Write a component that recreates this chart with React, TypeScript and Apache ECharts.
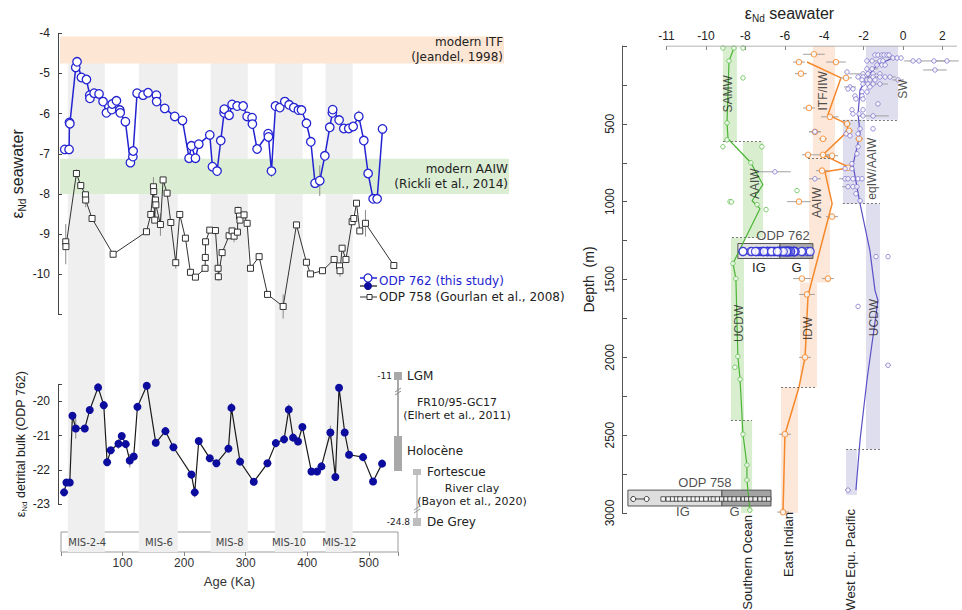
import React, { useEffect, useRef } from "react";
import * as echarts from "echarts";

// ---------------- data ----------------
// glacial stages (Ka)
const misBandsKa = [[12.6, 72.5], [127.6, 190.8], [244, 304], [348, 393], [430, 474]];
const misNames = ["MIS-2-4", "MIS-6", "MIS-8", "MIS-10", "MIS-12"];
const ageTickValues = [100, 200, 300, 400, 500];

// modern references (eps Nd)
const itfRange = [-4.08, -4.75];
const aaiwRange = [-7.12, -8.0];

// ODP 762 seawater [age Ka, eps]
const odp762Sw = [
  [7.7, -6.89], [14.7, -6.89], [15.3, -6.22], [16, -6.25], [25.5, -4.85], [27.6, -4.71], [34.7, -5.10], [42.8, -5.15],
  [48.2, -5.54], [48.5, -5.62], [55.2, -5.49], [63.2, -5.51], [69.7, -5.70], [75.2, -5.98], [83.8, -5.90], [84.5, -5.76],
  [91.4, -5.68], [96.8, -5.91], [97.5, -5.98], [105.9, -6.20], [114, -7.22], [118, -7.07], [118.5, -6.93], [124.8, -5.49],
  [134.5, -5.54], [142.6, -5.48], [156.1, -5.54], [156.5, -5.70], [169.6, -5.87], [185.8, -6.07], [198.3, -6.17], [209, -7.11],
  [212.8, -6.80], [219.3, -7.11], [224.7, -6.76], [242.5, -6.53], [246.8, -7.32], [254.3, -7.43], [260.3, -6.67], [265.7, -5.98],
  [266, -5.89], [273.8, -6.04], [278.6, -5.77], [286.8, -5.81], [296.5, -5.81], [303, -6.07], [311, -6.10], [311.5, -6.26],
  [319.1, -6.88], [337, -6.50], [337.5, -6.58], [342.4, -7.43], [348.9, -5.81], [355.9, -5.85], [364, -5.70], [371, -5.78],
  [378.5, -5.85], [386, -5.91], [391, -5.91], [399, -6.24], [406.1, -6.70], [413, -7.73], [420.6, -7.67], [428.8, -7.05],
  [436.8, -6.34], [441, -5.98], [441.5, -5.90], [451.9, -6.16], [459.5, -6.37], [467.6, -6.37], [474.7, -6.32], [483.8, -6.07],
  [491.9, -6.67], [498.9, -7.49], [507, -8.12], [513.5, -8.12], [522.2, -6.38]
];
const odp762SwErr = [[27.6, -4.71, 0.12], [156.5, -5.70, 0.1], [342.4, -7.43, 0.15], [420.6, -7.67, 0.38], [483.8, -6.07, 0.15], [15.3, -6.22, 0.1]];

// ODP 758 seawater (Gourlan et al., 2008) [age Ka, eps]
const odp758Sw = [
  [9.3, -9.19], [9.6, -9.31], [26.6, -7.49], [33.6, -7.79], [41.2, -8.02], [41.6, -8.15], [51.9, -8.61], [86, -9.50],
  [140, -8.94], [147, -8.51], [151.3, -7.82], [151.8, -7.94], [153.4, -8.65], [154.6, -8.15], [155.2, -8.27], [162.6, -8.76],
  [166.9, -7.65], [173.4, -7.98], [179.4, -8.71], [187.4, -9.71], [193.9, -8.51], [203.1, -9.10], [211.2, -9.95], [219.3, -10.07],
  [234.9, -9.85], [235.3, -9.58], [235.7, -9.19], [242.5, -8.90], [251.7, -8.91], [256, -9.85], [256.4, -10.06], [262.5, -9.46],
  [273.8, -9.04], [278.6, -8.92], [281.9, -9.05], [287.3, -8.95], [288.3, -8.41], [290.6, -8.55], [291.4, -8.65], [298, -8.52],
  [303, -8.73], [308.4, -9.85], [322.4, -9.56], [336, -10.50], [361.3, -10.80], [382.9, -8.77], [399, -9.70], [405.5, -9.99],
  [425, -9.91], [443.8, -9.63], [452.6, -9.79], [453.4, -9.91], [456.8, -9.35], [463, -9.63], [473, -8.69], [475.7, -8.61],
  [480.1, -8.23], [485.4, -8.92], [494.6, -8.73], [540.5, -9.78]
];
const odp758SwErr = [
  [9.3, -9.25, 0.5], [26.6, -7.49, 0.1], [41.6, -8.15, 0.18], [151.3, -7.9, 0.32], [162.6, -8.76, 0.28], [187.4, -9.71, 0.15],
  [256.4, -10.06, 0.1], [281.9, -9.05, 0.15], [288.3, -8.41, 0.1], [361.3, -10.8, 0.3], [453.4, -9.91, 0.15], [494.6, -8.73, 0.33]
];

// ODP 762 detrital bulk [age Ka, eps]
const odp762Det = [
  [6.6, -22.66], [10.4, -22.37], [15.8, -22.37], [20.1, -20.42], [25.5, -20.79], [40.1, -20.79], [48.2, -20.25], [61.7, -19.59],
  [70.9, -20.11], [76.3, -21.78], [82.2, -21.43], [94.6, -21.24], [100, -21.01], [106.5, -21.25], [113, -21.73], [119.4, -21.61],
  [125.4, -20.16], [140.5, -19.54], [155.1, -21.21], [170.8, -20.87], [183.7, -21.34], [212.8, -22.14], [218.2, -22.66], [224.7, -21.16],
  [242.5, -21.66], [253.3, -21.81], [272.8, -21.38], [277.6, -20.19], [291.6, -21.76], [313.8, -22.35], [336, -21.81], [349.5, -21.22],
  [362.9, -21.11], [370.5, -20.24], [377.5, -21.06], [385.5, -21.17], [392.6, -20.75], [407.2, -22.05], [416.3, -22.05], [423.4, -21.90],
  [437.9, -20.91], [446, -22.21], [451.9, -19.60], [461.1, -20.91], [468.1, -21.56], [490.8, -21.63], [507, -22.34], [521.6, -21.82]
];
const odp762DetErr = [
  [25.5, -20.79, 0.3], [94.6, -21.24, 0.15], [113, -21.73, 0.2], [155.1, -21.21, 0.12], [218.2, -22.66, 0.15], [277.6, -20.19, 0.15],
  [313.8, -22.35, 0.1], [349.5, -21.22, 0.12], [370.5, -20.24, 0.15], [377.5, -21.06, 0.1], [437.9, -20.91, 0.2], [490.8, -21.63, 0.1]
];

// depth profiles [eps, depth m]
const soProfile = [
  [-8.58, 13], [-8.83, 96], [-8.93, 494], [-8.88, 596], [-7.72, 750], [-7.11, 891], [-7.66, 994], [-7.26, 1045],
  [-8.63, 1397], [-8.48, 1494], [-8.38, 1994], [-8.27, 2141], [-8.12, 2494], [-7.92, 2692], [-7.92, 2788], [-7.77, 2981]
];
const soPoints = [
  [-9.14, 13], [-8.58, 13], [-8.12, 13], [-8.83, 96], [-8.12, 205], [-8.93, 494], [-8.93, 603], [-9.14, 647], [-7.16, 647],
  [-7.72, 750], [-7.41, 1019], [-6.95, 1051], [-8.78, 1000], [-8.70, 1002], [-8.63, 1397], [-8.48, 1494], [-8.38, 1994], [-8.53, 2064],
  [-8.27, 2141], [-8.12, 2494], [-7.92, 2692], [-7.92, 2788], [-7.77, 2981], [-5.38, 929]
];
const eiProfile = [
  [-4.87, 103], [-3.15, 205], [-3.81, 442], [-2.84, 500], [-2.79, 545], [-4.06, 699], [-2.69, 782], [-3.96, 808],
  [-3.60, 1013], [-4.82, 1603], [-4.97, 2000], [-5.28, 2192], [-5.99, 2494], [-6.09, 2994]
];
const eiPoints = [
  [-4.52, 53, 0.55], [-5.28, 103, 0.3], [-3.40, 103, 0.5], [-5.18, 178, 0.3], [-2.89, 205, 0.3], [-4.77, 398, 0.3],
  [-3.71, 455, 0.45], [-2.84, 500, 0.2], [-2.74, 545, 0.2], [-4.47, 551, 0.3], [-4.06, 596, 0.2], [-2.23, 596, 0.2],
  [-4.82, 699, 0.3], [-4.06, 699, 0.45], [-3.60, 705, 0.3], [-2.79, 782, 0.2], [-4.11, 801, 0.3], [-5.28, 1000, 0.6],
  [-3.60, 1096, 0.3], [-5.13, 1494, 0.45], [-3.81, 1494, 0.3], [-4.87, 1596, 0.4], [-4.97, 2000, 0.3], [-5.99, 2494, 0.3],
  [-6.09, 2994, 0.3]
];
const wpProfile = [
  [-0.51, 77], [-1.32, 122], [-1.68, 179], [-2.18, 282], [-2.28, 436], [-2.18, 564], [-2.54, 763], [-2.18, 1013],
  [-1.68, 1314], [-1.42, 1571], [-1.27, 1635], [-1.83, 2147], [-2.18, 2532], [-2.39, 2853]
];
const wpPoints = [
  [-1.42, 58, 0], [-1.27, 58, 0], [-1.07, 58, 0], [-0.96, 58, 0], [-0.81, 58, 0], [-0.71, 58, 0],
  [-0.51, 77, 0.25], [-0.30, 77, 0], [-0.10, 77, 0], [0.51, 96, 0.45], [0.81, 96, 0], [1.57, 96, 0.6], [2.23, 96, 0.6],
  [-1.83, 96, 0], [-1.57, 96, 0.3], [-1.17, 96, 0], [-1.02, 96, 0], [-1.32, 122, 0], [-1.07, 122, 0], [-0.91, 122, 0],
  [1.62, 154, 0.6], [-1.83, 147, 0], [-1.57, 147, 0.3], [-2.84, 167, 0], [-2.03, 179, 0.7], [-1.78, 179, 0], [-1.52, 179, 0],
  [-1.17, 179, 0], [-2.28, 199, 0], [-2.03, 199, 0], [-1.52, 199, 0.4], [-1.17, 199, 0], [-0.91, 199, 0], [-0.66, 199, 0.3],
  [-2.08, 218, 0], [-1.83, 218, 0], [-1.68, 218, 0.3], [-1.42, 218, 0], [-0.25, 218, 0.3], [-2.03, 244, 0], [-1.78, 244, 0.3],
  [-1.52, 244, 0], [-1.17, 244, 0.4], [-2.69, 263, 0.3], [-1.68, 263, 0], [-2.79, 276, 0], [-2.54, 276, 0], [-2.08, 295, 0],
  [-1.83, 295, 0], [-2.44, 321, 0], [-2.08, 321, 0], [-2.39, 340, 0], [-2.03, 340, 0], [-1.27, 372, 0], [-2.59, 410, 0],
  [-2.03, 410, 0], [-2.54, 436, 0], [-2.23, 436, 0], [-2.03, 449, 0], [-1.52, 449, 0.8], [-2.18, 532, 0], [-1.52, 532, 0],
  [-2.89, 564, 0], [-2.28, 564, 0], [-2.69, 577, 0], [-4.47, 551, 0.3], [-2.28, 647, 0], [-2.34, 692, 0], [-2.59, 756, 0],
  [-2.94, 788, 0], [-2.59, 788, 0], [-6.50, 808, 0.8], [-4.47, 853, 0.3], [-2.94, 853, 0.3], [-2.79, 853, 0], [-2.54, 853, 0],
  [-2.28, 853, 0], [-2.08, 853, 0], [-2.79, 904, 0.3], [-2.54, 904, 0], [-2.34, 904, 0], [-2.39, 949, 0], [-2.18, 994, 0],
  [-1.37, 1353, 0], [-0.76, 1353, 0], [-2.28, 1673, 0], [-0.76, 2051, 0.15], [-2.79, 2853, 0.15]
];

// water-mass bands [eps min, eps max, depth top, depth bottom]
const soBands = [[-9.14, -8.43, 0, 615], [-8.12, -7.10, 615, 1231], [-8.73, -8.07, 1231, 2404], [-8.22, -7.66, 2404, 3000]];
const eiBands = [[-4.57, -3.45, 0, 718], [-4.77, -3.71, 718, 1520], [-5.23, -4.37, 1520, 2192], [-6.19, -5.33, 2192, 3000]];
const wpBands = [[-1.88, -0.25, 0, 474], [-3.05, -1.93, 474, 1013], [-1.88, -1.17, 1013, 2590], [-2.89, -2.34, 2590, 2885]];
// boundaries [eps from, eps to, depth]
const boundaries = [
  [-9.14, -7.10, 615], [-8.68, -7.41, 1231], [-8.73, -7.66, 2404], [-4.82, -3.45, 718], [-6.19, -4.37, 2192],
  [-3.05, -0.25, 474], [-3.05, -1.17, 1013], [-2.89, -1.17, 2590]
];
const massLabels = [
  { name: "SAMW", value: [-8.88, 308] }, { name: "AAIW", value: [-7.51, 885] }, { name: "UCDW", value: [-8.32, 1782] },
  { name: "ITF/IIW", value: [-4.06, 288] }, { name: "AAIW", value: [-4.37, 1006] }, { name: "IDW", value: [-4.82, 1814] },
  { name: "SW", value: [0.0, 276] }, { name: "eqIW/AAIW", value: [-1.57, 788] }, { name: "UCDW", value: [-1.47, 1744] }
];

// core-top sites
const odp762Depth = 1320;
const odp762Box = { ig: [-8.38, -6.24], g: [-6.24, -4.57], depth: [1269, 1365] };
const odp758Depth = 2910;
const odp758Box = { ig: [-13.96, -9.19], g: [-9.19, -6.70], depth: [2853, 2955] };
const odp758Profile = [
  -13.69, -13.01, -12.17, -11.91, -11.69, -11.49, -11.32, -11.07, -10.85, -10.64, -10.44, -10.22, -10.0, -9.76, -9.62,
  -9.42, -9.2, -8.98, -8.78, -8.57, -8.35, -8.1, -7.93, -7.72, -7.5, -7.25, -7.04, -6.82
];
const topTicks = [-12, -10, -8, -6, -4, -2, 0, 2];
const regionNames = ["Southern Ocean", "East Indian", "West Equ. Pacific"];

// ---------------- styles ----------------
const FA = "Liberation Sans, Arial, sans-serif";
const FT = "DejaVu Sans, Verdana, sans-serif";
const BLUE = "#2323d2";
const NAVY = "#0c0c9e";
const GREEN = "#4cb436";
const ORANGE = "#f5882a";
const PURPLE = "#5b50c6";

const epsRich = (size: number) => ({
  e: { fontSize: size, fontFamily: FA, color: "#222", lineHeight: size + 4 },
  s: { fontSize: Math.round(size * 0.65), fontFamily: FA, color: "#222", verticalAlign: "bottom", lineHeight: Math.round(size * 0.65) },
  t: { fontSize: size, fontFamily: FA, color: "#222", lineHeight: size + 4 }
});

const vErr = (_p: any, api: any) => {
  const x = api.value(0), y = api.value(1), e = api.value(2);
  if (!e) return null;
  const a = api.coord([x, y - e]);
  const b = api.coord([x, y + e]);
  return { type: "line", shape: { x1: a[0], y1: a[1], x2: b[0], y2: b[1] }, style: { stroke: "#8a8a8a", lineWidth: 1 } };
};
const hErr = (_p: any, api: any) => {
  const x = api.value(0), y = api.value(1), e = api.value(2);
  if (!e) return null;
  const a = api.coord([x - e, y]);
  const b = api.coord([x + e, y]);
  return { type: "line", shape: { x1: a[0], y1: a[1], x2: b[0], y2: b[1] }, style: { stroke: "#a0a0a0", lineWidth: 1 } };
};

const bandArea = (bands: number[][], color: string) =>
  bands.map((b) => [{ xAxis: b[0], yAxis: b[2], itemStyle: { color } }, { xAxis: b[1], yAxis: b[3] }]);

function buildOption() {
  const txt = (text: string, x: number, y: number, opts: any = {}) => ({
    type: "text",
    x, y,
    rotation: opts.rotation || 0,
    silent: true,
    style: {
      text,
      fill: opts.fill || "#222",
      font: `${opts.size || 12}px ${opts.family || FT}`,
      textAlign: opts.align || "left",
      textVerticalAlign: "middle"
    },
    z: 100
  });
  const ln = (x1: number, y1: number, x2: number, y2: number, stroke: string, w = 1) => ({
    type: "line", silent: true, shape: { x1, y1, x2, y2 }, style: { stroke, lineWidth: w }, z: 100
  });
  const rc = (x: number, y: number, w: number, h: number, fill: string) => ({
    type: "rect", silent: true, shape: { x, y, width: w, height: h }, style: { fill }, z: 100
  });

  const graphic: any[] = [
    // legend
    ln(360, 278, 377, 278, BLUE, 1.5),
    { type: "circle", silent: true, shape: { cx: 368, cy: 278, r: 4 }, style: { fill: "#fff", stroke: BLUE, lineWidth: 1.3 }, z: 101 },
    ln(360, 286, 377, 286, "#111", 1.2),
    { type: "circle", silent: true, shape: { cx: 368, cy: 286, r: 4 }, style: { fill: NAVY }, z: 101 },
    txt("ODP 762 (this study)", 379, 281, { fill: BLUE, size: 12 }),
    ln(360, 297, 377, 297, "#333", 1),
    { type: "rect", silent: true, shape: { x: 367, y: 294.5, width: 5, height: 5 }, style: { fill: "#fff", stroke: "#333", lineWidth: 1 }, z: 101 },
    txt("ODP 758 (Gourlan et al., 2008)", 379, 297, { size: 12 }),
    // end-member schematic
    ln(398, 380, 398, 436, "#8c8c8c", 1.5),
    ln(395, 392, 401, 388, "#8c8c8c", 1),
    ln(395, 395, 401, 391, "#8c8c8c", 1),
    rc(394, 372, 8, 8, "#a9a9a9"),
    rc(394, 436, 8, 35, "#a9a9a9"),
    txt("-11", 392, 376, { size: 9, align: "right" }),
    txt("LGM", 407, 376, { size: 12 }),
    txt("FR10/95-GC17", 457, 402, { size: 11, align: "center" }),
    txt("(Elhert et al., 2011)", 457, 415, { size: 11, align: "center" }),
    txt("Holocène", 407, 451, { size: 12 }),
    ln(417, 475, 417, 518, "#bdbdbd", 1.5),
    ln(414, 510, 420, 506, "#999", 1),
    ln(414, 513, 420, 509, "#999", 1),
    rc(413, 469, 8, 6, "#bdbdbd"),
    rc(413, 518, 8, 8, "#bdbdbd"),
    txt("Fortescue", 427, 472, { size: 12 }),
    txt("River clay", 472, 488, { size: 11, align: "center" }),
    txt("(Bayon et al., 2020)", 472, 501, { size: 11, align: "center" }),
    txt("-24.8", 410, 522, { size: 9, align: "right" }),
    txt("De Grey", 427, 522, { size: 12 }),
    // region names
    txt(regionNames[0], 747, 515, { size: 13, align: "right", rotation: Math.PI / 2, family: FA }),
    txt(regionNames[1], 788, 512, { size: 13, align: "right", rotation: Math.PI / 2, family: FA }),
    txt(regionNames[2], 850, 509, { size: 13, align: "right", rotation: Math.PI / 2, family: FA })
  ];

  const R = { xAxisIndex: 4, yAxisIndex: 4 };

  const series: any[] = [
    // ---- background MIS bands ----
    {
      type: "line", xAxisIndex: 3, yAxisIndex: 3, data: [], z: 0, silent: true,
      markArea: { silent: true, itemStyle: { color: "#efefef" }, data: misBandsKa.map((b) => [{ xAxis: b[0] }, { xAxis: b[1] }]) }
    },
    {
      type: "line", xAxisIndex: 2, yAxisIndex: 2, data: [], z: 3, silent: true,
      markArea: {
        silent: true,
        itemStyle: { color: "rgba(0,0,0,0)" },
        label: { show: true, position: "inside", fontSize: 10, fontFamily: FT, color: "#444" },
        data: misBandsKa.map((b, i) => [{ name: misNames[i], xAxis: b[0] }, { xAxis: b[1] }])
      }
    },
    // ---- top-left modern reference bands ----
    {
      type: "line", xAxisIndex: 0, yAxisIndex: 0, data: [], z: 1, silent: true,
      markArea: {
        silent: true,
        label: { show: true, position: "insideRight", distance: 1, fontSize: 12, fontFamily: FT, color: "#222", align: "right", lineHeight: 15 },
        data: [
          [{ name: "modern ITF\n(Jeandel, 1998)", xAxis: 0, yAxis: itfRange[0], itemStyle: { color: "#fde6d4" } }, { xAxis: 719, yAxis: itfRange[1] }],
          [{ name: "modern AAIW\n(Rickli et al., 2014)", xAxis: 0, yAxis: aaiwRange[0], itemStyle: { color: "#dbeed4" } }, { xAxis: 727, yAxis: aaiwRange[1] }]
        ]
      }
    },
    { type: "custom", xAxisIndex: 0, yAxisIndex: 0, data: odp758SwErr, renderItem: vErr, z: 3, silent: true },
    {
      type: "line", xAxisIndex: 0, yAxisIndex: 0, data: odp758Sw, z: 4, silent: true,
      symbol: "rect", symbolSize: 6, showAllSymbol: true,
      itemStyle: { color: "#fff", borderColor: "#333", borderWidth: 1 },
      lineStyle: { color: "#333", width: 1 }
    },
    { type: "custom", xAxisIndex: 0, yAxisIndex: 0, data: odp762SwErr, renderItem: vErr, z: 4, silent: true },
    {
      type: "line", xAxisIndex: 0, yAxisIndex: 0, data: odp762Sw, z: 5, silent: true,
      symbol: "circle", symbolSize: 8.5, showAllSymbol: true,
      itemStyle: { color: "#fff", borderColor: BLUE, borderWidth: 1.3 },
      lineStyle: { color: BLUE, width: 1.5 }
    },
    // ---- bottom-left detrital ----
    { type: "custom", xAxisIndex: 1, yAxisIndex: 1, data: odp762DetErr, renderItem: vErr, z: 3, silent: true },
    {
      type: "line", xAxisIndex: 1, yAxisIndex: 1, data: odp762Det, z: 5, silent: true,
      symbol: "circle", symbolSize: 8, showAllSymbol: true,
      itemStyle: { color: NAVY },
      lineStyle: { color: "#1a1a1a", width: 1.2 }
    },
    // ---- right panel ----
    {
      type: "line", ...R, data: [], z: 1, silent: true,
      markArea: {
        silent: true,
        data: [...bandArea(soBands, "#d8eecf"), ...bandArea(eiBands, "#fde7d8"), ...bandArea(wpBands, "#dfdeef")]
      },
      markLine: {
        silent: true, symbol: "none", label: { show: false },
        lineStyle: { color: "#777", type: [2, 2], width: 1 },
        data: boundaries.map((b) => [{ coord: [b[0], b[2]] }, { coord: [b[1], b[2]] }])
      }
    },
    {
      type: "line", ...R, data: [], z: 3, silent: true,
      markArea: {
        silent: true,
        itemStyle: { borderColor: "#555", borderWidth: 1 },
        label: { show: true, position: "bottom", distance: 2, fontSize: 13, fontFamily: FA, color: "#222" },
        data: [
          [{ name: "IG", xAxis: odp762Box.ig[0], yAxis: odp762Box.depth[0], itemStyle: { color: "#e2e2e2" } }, { xAxis: odp762Box.ig[1], yAxis: odp762Box.depth[1] }],
          [{ name: "G", xAxis: odp762Box.g[0], yAxis: odp762Box.depth[0], itemStyle: { color: "#ababab" } }, { xAxis: odp762Box.g[1], yAxis: odp762Box.depth[1] }],
          [{ name: "", xAxis: odp758Box.ig[0], yAxis: odp758Box.depth[0], itemStyle: { color: "#dedede" } }, { xAxis: odp758Box.ig[1], yAxis: odp758Box.depth[1] }],
          [{ name: "", xAxis: odp758Box.g[0], yAxis: odp758Box.depth[0], itemStyle: { color: "#a3a3a3" } }, { xAxis: odp758Box.g[1], yAxis: odp758Box.depth[1] }]
        ]
      }
    },
    { type: "custom", ...R, data: eiPoints, renderItem: hErr, z: 3, silent: true, clip: false },
    { type: "custom", ...R, data: wpPoints, renderItem: hErr, z: 3, silent: true, clip: false },
    { type: "line", ...R, data: soProfile, symbol: "none", lineStyle: { color: GREEN, width: 1.2 }, z: 2, silent: true },
    { type: "line", ...R, data: eiProfile, symbol: "none", lineStyle: { color: ORANGE, width: 1.5 }, z: 2, silent: true },
    { type: "line", ...R, data: wpProfile, symbol: "none", lineStyle: { color: PURPLE, width: 1.2 }, z: 2, silent: true },
    {
      type: "scatter", ...R, data: soPoints, symbol: "circle", symbolSize: 4.5, z: 5, silent: true,
      itemStyle: { color: "#fff", borderColor: "#5fbf4c", borderWidth: 1 }
    },
    {
      type: "scatter", ...R, data: eiPoints.map((p) => [p[0], p[1]]), symbol: "circle", symbolSize: 5.5, z: 5, silent: true,
      itemStyle: { color: "#fff", borderColor: ORANGE, borderWidth: 1.1 }
    },
    {
      type: "scatter", ...R, data: wpPoints.map((p) => [p[0], p[1]]), symbol: "circle", symbolSize: 4.5, z: 5, silent: true,
      itemStyle: { color: "#fff", borderColor: "#7f76cf", borderWidth: 1 }
    },
    {
      type: "scatter", ...R, data: odp762Sw.map((p) => [p[1], odp762Depth]), symbol: "circle", symbolSize: 8, z: 6, silent: true,
      itemStyle: { color: "#fff", borderColor: "#2a2ad4", borderWidth: 1.3 }
    },
    {
      type: "line", ...R, data: odp758Profile.slice(0, 2).map((v) => [v, odp758Depth]), symbol: "circle", symbolSize: 5, z: 6, silent: true,
      lineStyle: { color: "#444", width: 1 }, itemStyle: { color: "#fff", borderColor: "#333", borderWidth: 1 }
    },
    {
      type: "scatter", ...R, data: odp758Profile.slice(2).map((v) => [v, odp758Depth]), symbol: "rect", symbolSize: 4.5, z: 6, silent: true,
      itemStyle: { color: "#fff", borderColor: "#333", borderWidth: 1 }
    },
    // top axis line (from first tick)
    {
      type: "line", ...R, data: [[topTicks[0], 0], [2.74, 0]], symbol: "none", z: 7, silent: true,
      lineStyle: { color: "#9a9a9a", width: 1 }
    },
    // text labels
    {
      type: "scatter", ...R, data: massLabels, symbolSize: 0, z: 8, silent: true,
      label: { show: true, formatter: "{b}", rotate: 90, position: "inside", fontSize: 12, fontFamily: FA, color: "#222" }
    },
    {
      type: "scatter", ...R, symbolSize: 0, z: 8, silent: true,
      label: { show: true, formatter: "{b}", position: "inside", fontSize: 13, fontFamily: FA, color: "#222" },
      data: [
        { name: "ODP 762", value: [-6.09, 1218] },
        { name: "ODP 758", value: [-10.05, 2801] },
        { name: "IG", value: [-11.17, 2990] },
        { name: "G", value: [-8.55, 2990] }
      ]
    }
  ];

  return {
    animation: false,
    backgroundColor: "#fff",
    textStyle: { fontFamily: FA },
    grid: [
      { left: 60, top: 33.3, width: 449, height: 281.2 },
      { left: 60, top: 384.3, width: 338, height: 119.7 },
      { left: 61, top: 532, width: 337, height: 20, show: true, borderColor: "#9a9a9a", borderWidth: 1, backgroundColor: "rgba(0,0,0,0)" },
      { left: 60, top: 63, width: 338, height: 489 },
      { left: 622, top: 45, width: 335, height: 468 }
    ],
    xAxis: [
      { gridIndex: 0, type: "value", min: 0, max: 727, show: false },
      { gridIndex: 1, type: "value", min: 0, max: 547.4, show: false },
      {
        gridIndex: 2, type: "value", min: 0, max: 547.4, interval: 100,
        axisLine: { show: false },
        axisTick: { show: true, length: 4, lineStyle: { color: "#888" } },
        axisLabel: { formatter: (v: number) => (ageTickValues.includes(v) ? String(v) : ""), fontSize: 12, color: "#333", margin: 5, fontFamily: FA },
        splitLine: { show: false },
        name: "Age (Ka)", nameLocation: "middle", nameGap: 23,
        nameTextStyle: { fontSize: 13, color: "#333", fontFamily: FA }
      },
      { gridIndex: 3, type: "value", min: 0, max: 547.4, show: false },
      {
        gridIndex: 4, type: "value", position: "top", min: -14.26, max: 2.74,
        axisLine: { show: false, onZero: false },
        axisTick: { show: true, inside: true, length: 4, customValues: topTicks, lineStyle: { color: "#888" } },
        axisLabel: { customValues: topTicks, formatter: (v: number) => (v === -12 ? "-11" : String(v)), fontSize: 12, color: "#222", margin: 4, fontFamily: FA },
        splitLine: { show: false },
        name: "{e|ε}{s|Nd}{t| seawater}", nameLocation: "middle", nameGap: 23,
        nameTextStyle: { rich: epsRich(16) }
      }
    ],
    yAxis: [
      {
        gridIndex: 0, type: "value", min: -11, max: -4, interval: 1, offset: 2,
        axisLine: { show: true, onZero: false, lineStyle: { color: "#444" } },
        axisTick: { show: true, inside: true, length: 4, lineStyle: { color: "#444" } },
        axisLabel: { formatter: (v: number) => (v === -11 ? "" : String(v)), fontSize: 12, color: "#222", margin: 8, fontFamily: FA },
        splitLine: { show: false },
        name: "{e|ε}{s|Nd}{t| seawater}", nameLocation: "middle", nameGap: 31, nameRotate: 90,
        nameTextStyle: { rich: epsRich(16) }
      },
      {
        gridIndex: 1, type: "value", min: -23, max: -19.5, interval: 1, offset: 2,
        axisLine: { show: true, onZero: false, lineStyle: { color: "#444" } },
        axisTick: { show: true, inside: true, length: 4, lineStyle: { color: "#444" } },
        axisLabel: { formatter: (v: number) => (Number.isInteger(v) ? String(v) : ""), fontSize: 12, color: "#222", margin: 8, fontFamily: FA },
        splitLine: { show: false },
        name: "{e|ε}{s|Nd}{t| detrital bulk (ODP 762)}", nameLocation: "middle", nameGap: 28, nameRotate: 90,
        nameTextStyle: { rich: epsRich(12.5) }
      },
      { gridIndex: 2, type: "value", min: 0, max: 1, show: false },
      { gridIndex: 3, type: "value", min: 0, max: 1, show: false },
      {
        gridIndex: 4, type: "value", inverse: true, min: 0, max: 3000, interval: 250,
        axisLine: { show: true, onZero: false, lineStyle: { color: "#555" } },
        axisTick: { show: true, inside: true, length: 5, lineStyle: { color: "#555" } },
        axisLabel: { rotate: 90, formatter: (v: number) => (v > 0 && v % 500 === 0 ? String(v) : ""), fontSize: 12, color: "#222", margin: 6, fontFamily: FA },
        splitLine: { show: false },
        name: "Depth  (m)", nameLocation: "middle", nameGap: 26, nameRotate: 90,
        nameTextStyle: { fontSize: 14, color: "#222", fontFamily: FA }
      }
    ],
    graphic,
    series
  };
}

export default function App() {
  const ref = useRef<HTMLDivElement>(null);
  useEffect(() => {
    if (!ref.current) return;
    const chart = echarts.init(ref.current, null, { renderer: "svg" });
    chart.setOption(buildOption() as any);
    return () => chart.dispose();
  }, []);
  return <div ref={ref} style={{ position: "fixed", left: 0, top: 0, width: 962, height: 610, background: "#fff" }} />;
}
